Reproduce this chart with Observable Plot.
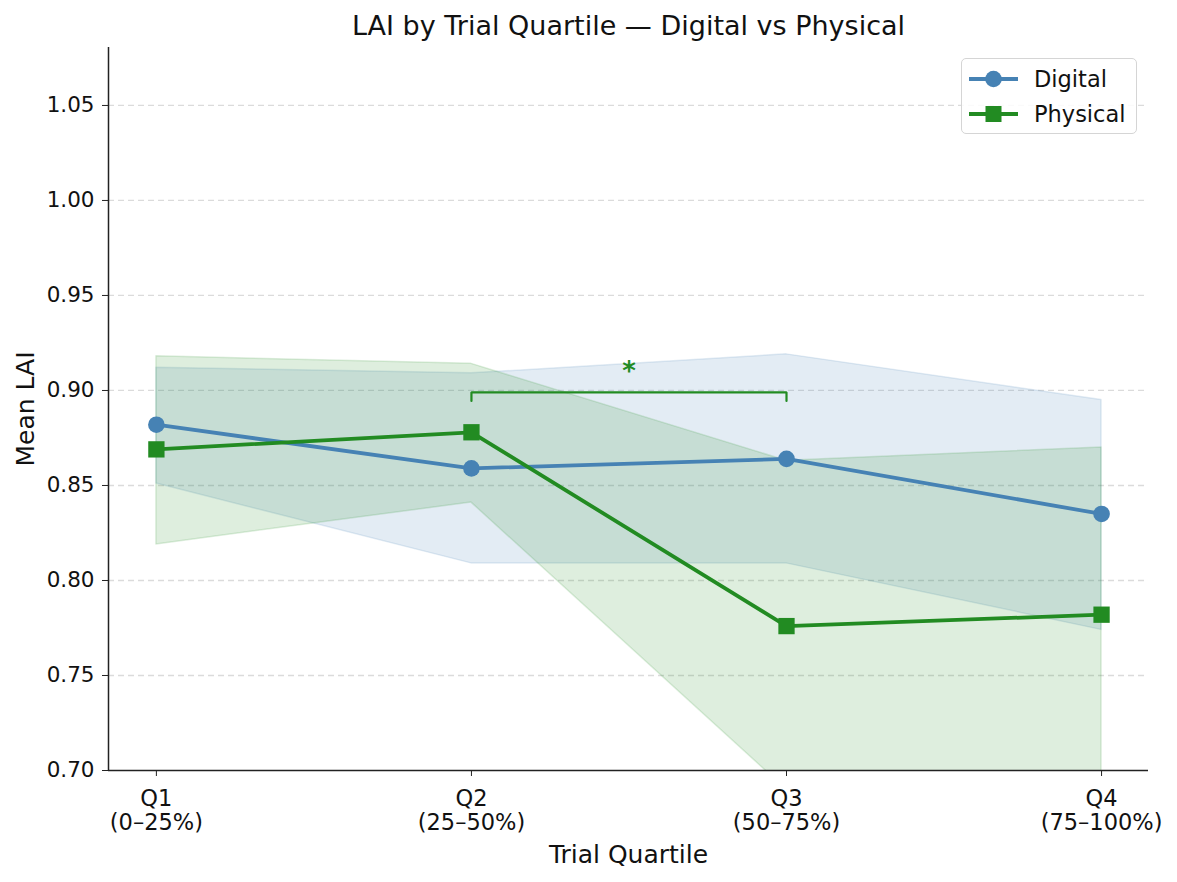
<!DOCTYPE html>
<html>
<head>
<meta charset="utf-8">
<script src="https://cdn.jsdelivr.net/npm/d3@7"></script>
<script src="https://cdn.jsdelivr.net/npm/@observablehq/plot@0.6"></script>
<style>
  html, body { margin: 0; padding: 0; background: #fff; }
  #wrap { position: relative; width: 1177px; height: 882px; font-family: "DejaVu Sans", sans-serif; }
  #legend { position: absolute; left: 961px; top: 58px; width: 176px; height: 76px;
    border: 1.5px solid #d5d5d5; border-radius: 5px; background: rgba(255,255,255,0.85); box-sizing: border-box; }
  .row { position: absolute; left: 0; height: 30px; display: flex; align-items: center; }
  .row svg { margin-left: 7px; }
  .row span { margin-left: 16px; font-size: 22.5px; color: #111; }
</style>
</head>
<body>
<div id="wrap"></div>
<script>
const quartileLabels = ["Q1\n(0–25%)", "Q2\n(25–50%)", "Q3\n(50–75%)", "Q4\n(75–100%)"];
const quartileIndex = [0, 1, 2, 3];
const digitalMean = [0.882, 0.859, 0.864, 0.835];
const digitalLo   = [0.851, 0.809, 0.809, 0.774];
const digitalHi   = [0.912, 0.909, 0.919, 0.895];
const physicalMean = [0.869, 0.878, 0.776, 0.782];
const physicalLo   = [0.819, 0.841, 0.690, 0.680];
const physicalHi   = [0.918, 0.914, 0.863, 0.870];
const yTicks = [0.70, 0.75, 0.80, 0.85, 0.90, 0.95, 1.00, 1.05];
const sigFrom = 1, sigTo = 2, sigLevel = 0.899, sigDrop = 0.0045, sigLabel = "*";

const blue = "#4682b4", green = "#228b22";
const digital = quartileIndex.map(i => ({x: i, m: digitalMean[i], lo: digitalLo[i], hi: digitalHi[i]}));
const physical = quartileIndex.map(i => ({x: i, m: physicalMean[i], lo: physicalLo[i], hi: physicalHi[i]}));
const bracket = [
  {x: sigFrom, y: sigLevel - sigDrop}, {x: sigFrom, y: sigLevel},
  {x: sigTo, y: sigLevel}, {x: sigTo, y: sigLevel - sigDrop}
];

const chart = Plot.plot({
  width: 1177, height: 882,
  marginLeft: 108, marginRight: 29, marginTop: 47, marginBottom: 112,
  style: {fontFamily: "DejaVu Sans, sans-serif", background: "#fff", color: "#111"},
  x: {domain: [-0.152, 3.149], ticks: quartileIndex, tickFormat: i => quartileLabels[i]},
  y: {domain: [0.70, 1.0805], ticks: yTicks, tickFormat: d3.format(".2f")},
  marks: [
    Plot.ruleY(yTicks.filter(t => t > 0.70), {stroke: "#b0b0b0", strokeOpacity: 0.45, strokeWidth: 1.3, strokeDasharray: "6,4"}),
    Plot.areaY(digital, {x: "x", y1: "lo", y2: "hi", fill: blue, fillOpacity: 0.15, stroke: blue, strokeOpacity: 0.15, strokeWidth: 1.5, clip: true}),
    Plot.areaY(physical, {x: "x", y1: "lo", y2: "hi", fill: green, fillOpacity: 0.15, stroke: green, strokeOpacity: 0.15, strokeWidth: 1.5, clip: true}),
    Plot.line(digital, {x: "x", y: "m", stroke: blue, strokeWidth: 3.8, clip: true}),
    Plot.dot(digital, {x: "x", y: "m", fill: blue, r: 8.3, symbol: "circle"}),
    Plot.line(physical, {x: "x", y: "m", stroke: green, strokeWidth: 3.8, clip: true}),
    Plot.dot(physical, {x: "x", y: "m", fill: green, r: 9.2, symbol: "square"}),
    Plot.line(bracket, {x: "x", y: "y", stroke: green, strokeWidth: 2.2, strokeLinejoin: "miter"}),
    Plot.text([{x: (sigFrom + sigTo) / 2, y: sigLevel}], {x: "x", y: "y", text: () => sigLabel, fill: green, fontSize: 26, fontWeight: "bold", lineAnchor: "bottom", dy: -12}),
    Plot.ruleX([-0.152], {stroke: "#222", strokeWidth: 1.5}),
    Plot.ruleY([0.70], {stroke: "#222", strokeWidth: 1.5}),
    Plot.axisY({ticks: yTicks, tickFormat: d3.format(".2f"), tickSize: 6, tickPadding: 8, fontSize: 21.5, label: null, stroke: "#222", fill: "#111"}),
    Plot.axisX({ticks: quartileIndex, tickFormat: i => quartileLabels[i], tickSize: 6, tickPadding: 12, fontSize: 22.5, lineHeight: 1.08, label: null, stroke: "#222", fill: "#111"}),
    Plot.text(["LAI by Trial Quartile — Digital vs Physical"], {frameAnchor: "top", dy: -21, fontSize: 27, fill: "#111", lineAnchor: "middle"}),
    Plot.text(["Trial Quartile"], {frameAnchor: "bottom", dy: 84, fontSize: 25, fill: "#111", lineAnchor: "middle"}),
    Plot.text(["Mean LAI"], {frameAnchor: "left", dx: -83, rotate: -90, fontSize: 25, fill: "#111", lineAnchor: "middle", textAnchor: "middle"})
  ]
});

const wrap = document.getElementById("wrap");
wrap.appendChild(chart);

const legend = document.createElement("div");
legend.id = "legend";
const items = [
  {label: "Digital", color: blue, shape: "circle"},
  {label: "Physical", color: green, shape: "square"}
];
items.forEach((it, k) => {
  const row = document.createElement("div");
  row.className = "row";
  row.style.top = (5 + k * 35) + "px";
  const marker = it.shape === "circle"
    ? `<circle cx="24.5" cy="15" r="8.3" fill="${it.color}"/>`
    : `<rect x="16.5" y="7" width="16" height="16" fill="${it.color}"/>`;
  row.innerHTML = `<svg width="49" height="30"><line x1="0" x2="49" y1="15" y2="15" stroke="${it.color}" stroke-width="3.8"/>${marker}</svg><span>${it.label}</span>`;
  legend.appendChild(row);
});
wrap.appendChild(legend);
</script>
</body>
</html>
